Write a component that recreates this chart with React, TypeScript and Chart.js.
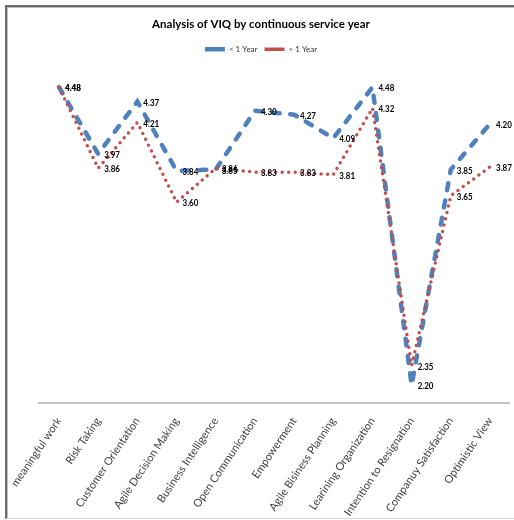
import React, { useEffect, useRef } from "react";
import { Chart, registerables } from "chart.js";

Chart.register(...registerables);

const categories = [
  "meaningful work",
  "Risk Taking",
  "Customer Orientation",
  "Agile Decision Making",
  "Business Intelligence",
  "Open Communication",
  "Empowerment",
  "Agile Bisiness Planning",
  "Learining Organization",
  "Intention to Resignation",
  "Companuy Satisfaction",
  "Optimistic View",
];

const lessThanOneYear = [4.48, 3.97, 4.37, 3.84, 3.85, 4.3, 4.27, 4.09, 4.48, 2.2, 3.85, 4.2];
const moreThanOneYear = [4.48, 3.86, 4.21, 3.6, 3.86, 3.83, 3.83, 3.81, 4.32, 2.35, 3.65, 3.87];

const seriesNames = ["< 1 Year", "> 1 Year"];
const chartTitle = "Analysis of VIQ by continuous service year";

const FONT = "Lato, 'Liberation Sans', sans-serif";

const valueLabels = {
  id: "valueLabels",
  afterDatasetsDraw(chart: any) {
    const ctx = chart.ctx;
    chart.data.datasets.forEach((ds: any, i: number) => {
      const meta = chart.getDatasetMeta(i);
      meta.data.forEach((pt: any, j: number) => {
        ctx.save();
        ctx.font = `bold 10px ${FONT}`;
        ctx.fillStyle = "#000000";
        ctx.textAlign = "left";
        ctx.textBaseline = "middle";
        ctx.translate(pt.x + 6, pt.y + 1);
        ctx.scale(0.8, 1);
        ctx.fillText(Number(ds.data[j]).toFixed(2), 0, 0);
        ctx.restore();
      });
    });
  },
};

export default function App() {
  const canvasRef = useRef<HTMLCanvasElement | null>(null);

  useEffect(() => {
    if (!canvasRef.current) return;
    const chart = new Chart(canvasRef.current, {
      type: "line",
      data: {
        labels: categories,
        datasets: [
          {
            label: seriesNames[0],
            data: lessThanOneYear,
            borderColor: "#4F81BD",
            backgroundColor: "#4F81BD",
            borderWidth: 4.5,
            borderDash: [7, 10.5],
            borderCapStyle: "round",
            pointRadius: 0,
            tension: 0,
            order: 1,
          },
          {
            label: seriesNames[1],
            data: moreThanOneYear,
            borderColor: "#C0504D",
            backgroundColor: "#C0504D",
            borderWidth: 3.5,
            borderDash: [0, 6.5],
            borderCapStyle: "round",
            pointRadius: 0,
            tension: 0,
            order: 0,
          },
        ],
      },
      options: {
        animation: false,
        responsive: true,
        maintainAspectRatio: false,
        layout: { padding: { left: 12.4, right: 4.4, top: 0, bottom: 0 } },
        plugins: {
          title: {
            display: true,
            text: chartTitle,
            color: "#000000",
            font: { family: FONT, size: 11.5, weight: "bold" },
            padding: { top: 17.5, bottom: 7 },
          },
          legend: {
            display: true,
            labels: {
              usePointStyle: true,
              pointStyle: "line",
              pointStyleWidth: 20,
              boxHeight: 9,
              padding: 7,
              color: "#333333",
              font: { family: FONT, size: 8 },
              sort: (a: any, b: any) => a.datasetIndex - b.datasetIndex,
            },
          },
          tooltip: { enabled: false },
        },
        scales: {
          x: {
            offset: true,
            grid: { display: false },
            border: { display: true, color: "#c4c4c4", width: 2 },
            ticks: {
              autoSkip: false,
              minRotation: 56,
              maxRotation: 56,
              padding: 4,
              color: "#404040",
              font: { family: FONT, size: 11 },
            },
            afterFit: (s: any) => {
              s.height = 117;
            },
          },
          y: {
            min: 2.063,
            max: 4.663,
            display: true,
            grid: { display: false },
            border: { display: false },
            ticks: { display: false },
            afterFit: (s: any) => {
              s.width = 27;
            },
          },
        },
      },
      plugins: [valueLabels],
    } as any);
    return () => chart.destroy();
  }, []);

  return (
    <div style={{ position: "absolute", left: 0, top: 0, width: 514, height: 520, overflow: "hidden", background: "#ffffff" }}>
      <div
        style={{
          position: "absolute",
          left: 5,
          top: 5,
          width: 507,
          height: 511,
          borderTop: "2px solid #6a6a6a",
          borderLeft: "2px solid #6a6a6a",
          borderBottom: "1px solid #d8d8d8",
          boxShadow: "inset 1px 1px 0 #bdbdbd",
        }}
      />
      <div style={{ position: "absolute", left: 0, top: 0, width: 514, height: 520 }}>
        <canvas ref={canvasRef} />
      </div>
    </div>
  );
}
